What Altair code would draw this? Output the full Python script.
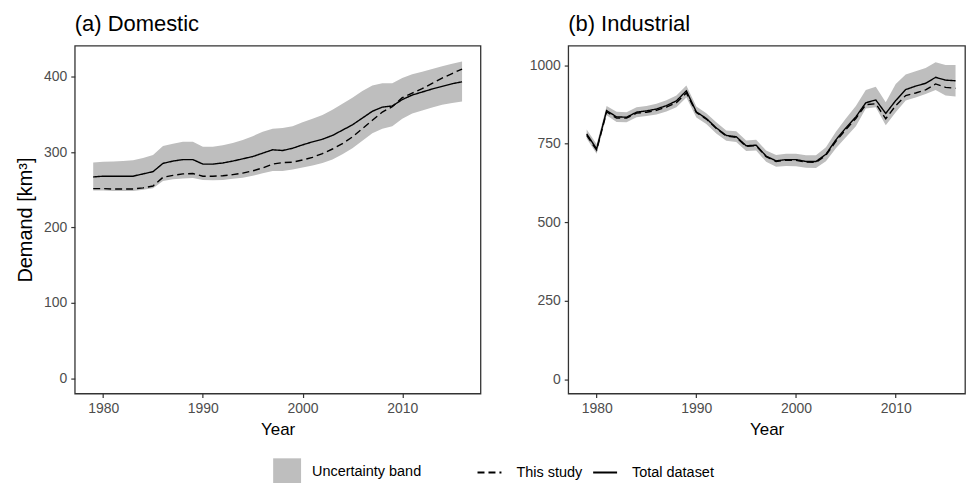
import altair as alt
import pandas as pd

years = list(range(1979, 2017))

# (a) Domestic
dom_total = [267, 268, 268, 268, 268, 271, 274, 285, 288, 290, 290, 284, 284, 285.5, 288,
             291, 294, 298.5, 303, 302, 305, 309.5, 313.5, 317, 322, 329, 336, 345, 354,
             359.5, 361, 369.5, 375.5, 379.5, 383.5, 387, 390.5, 393]
dom_study = [251.5, 251.5, 251, 251, 251, 252.5, 255, 266.5, 269, 271, 271.5, 268, 268, 268.5,
             270, 272, 275, 279, 284, 286, 286.5, 289.5, 293, 298, 304, 311, 320, 331, 342,
             353, 360, 372, 378, 384, 391, 398, 404, 410]
dom_upper = [286, 287, 287.5, 288, 289, 292, 296, 308, 311, 313.5, 313.5, 307, 307, 309, 312,
             316, 321, 327, 331, 332, 334, 339.5, 344, 349, 356, 364, 372, 381, 388, 391,
             391, 398, 403, 406.5, 410, 413.5, 417, 420]
dom_lower = [249, 249, 248.5, 248.5, 248.5, 250, 252, 261.5, 264, 265, 265.5, 263, 262.5, 263,
             264.5, 266, 268.5, 272, 275, 275, 277, 279.5, 282, 285.5, 290, 297, 305, 315,
             325, 331, 334, 344, 351, 355, 359, 362.5, 365, 367]

# (b) Industrial
ind_total = [781, 733, 855, 835, 834, 850, 854, 860, 871, 886, 918, 851, 830, 800, 776, 772,
             743, 745, 710, 695, 699, 699, 693, 693, 716, 762, 800, 835, 880, 889, 846, 887,
             922, 933, 942, 961, 952, 950]
ind_study = [776, 729, 851, 831, 831, 847, 850, 856, 866, 880, 911, 849, 828, 798, 774, 770,
             741, 743, 708, 693, 697, 697, 691, 690, 713, 757, 795, 830, 874, 877, 829, 871,
             903, 911, 921, 940, 929, 926]
ind_upper = [795, 748, 870, 851, 850, 866, 870, 877, 888, 903, 935, 868, 847, 818, 792, 789,
             760, 762, 728, 714, 718, 718, 713, 713, 738, 788, 830, 870, 921, 931, 882, 940,
             970, 980, 991, 1009, 1000, 1000]
ind_lower = [766, 718, 840, 819, 818, 834, 838, 843, 852, 866, 897, 833, 812, 782, 759, 755,
             726, 728, 692, 676, 679, 678, 673, 672, 694, 735, 770, 805, 862, 866, 808, 850,
             887, 897, 908, 921, 903, 900]

series_names = ["This study", "Total dataset"]
band_name = "Uncertainty band"
x_ticks = [1980, 1990, 2000, 2010]
dom_ticks = [0, 100, 200, 300, 400]
ind_ticks = [0, 250, 500, 750, 1000]

FONT = "Liberation Sans"
DASHES = [[7, 4], [1, 0]]


def panel(title, total, study, lower, upper, xdom, ydom, yticks, width, ytitle):
    band_df = pd.DataFrame({"Year": years, "lower": lower, "upper": upper,
                            "band": [band_name] * len(years)})
    line_df = pd.DataFrame({"Year": years * 2, "value": study + total,
                            "series": [series_names[0]] * len(years) + [series_names[1]] * len(years)})
    x = alt.X("Year:Q", scale=alt.Scale(domain=xdom, nice=False, zero=False),
              axis=alt.Axis(values=x_ticks, format="d", title="Year"))
    if ytitle:
        yaxis = alt.Axis(values=yticks, format="d", title=ytitle, titleFontSize=20)
    else:
        yaxis = alt.Axis(values=yticks, format="d", title=None)
    fill_legend = alt.Legend(orient="none", legendX=199, legendY=414, title=None,
                             symbolType="square", symbolSize=784, symbolStrokeWidth=0,
                             labelOffset=11)
    dash_legend = alt.Legend(orient="none", legendX=403, legendY=415, title=None,
                             direction="horizontal", symbolType="stroke", symbolSize=576,
                             symbolStrokeWidth=2, symbolStrokeColor="black",
                             columnPadding=6, labelOffset=14)
    area = alt.Chart(band_df).mark_area(opacity=1, clip=True).encode(
        x=x,
        y=alt.Y("lower:Q", scale=alt.Scale(domain=ydom, nice=False, zero=False), axis=yaxis),
        y2="upper:Q",
        fill=alt.Fill("band:N", scale=alt.Scale(domain=[band_name], range=["#BEBEBE"]),
                      legend=fill_legend),
    )
    lines = alt.Chart(line_df).mark_line(color="black", strokeWidth=1.4, clip=True).encode(
        x=x,
        y=alt.Y("value:Q"),
        strokeDash=alt.StrokeDash("series:N", scale=alt.Scale(domain=series_names, range=DASHES),
                                  legend=dash_legend),
    )
    return alt.layer(area, lines).properties(
        width=width, height=349,
        title=alt.TitleParams(title, anchor="start", frame="group", fontSize=22,
                              fontWeight="normal", color="black", font=FONT, offset=10),
    )


left = panel("(a) Domestic", dom_total, dom_study, dom_lower, dom_upper,
             [1977.15, 2017.85], [-20, 441], dom_ticks, 407, "Demand [km³]")
right = panel("(b) Industrial", ind_total, ind_study, ind_lower, ind_upper,
              [1977.15, 2016.95], [-46, 1062], ind_ticks, 398, None)

chart = alt.hconcat(left, right, spacing=47).properties(
    padding={"left": 14, "top": 11, "right": 0, "bottom": 0}
).configure_view(
    stroke="#333333", strokeWidth=1.3
).configure_axis(
    domain=False, grid=False, ticks=True, tickColor="#333333", tickSize=4, tickWidth=1.2,
    labelColor="#4D4D4D", labelFontSize=14, labelFont=FONT, labelPadding=4,
    titleFont=FONT, titleFontSize=17, titleColor="black", titleFontWeight="normal",
).configure_axisY(titlePadding=8).configure_axisX(titlePadding=6).configure_legend(
    labelFont=FONT, labelFontSize=14.5, labelColor="black"
)

chart.save("out.html", embed_options={"renderer": "svg", "actions": False})
